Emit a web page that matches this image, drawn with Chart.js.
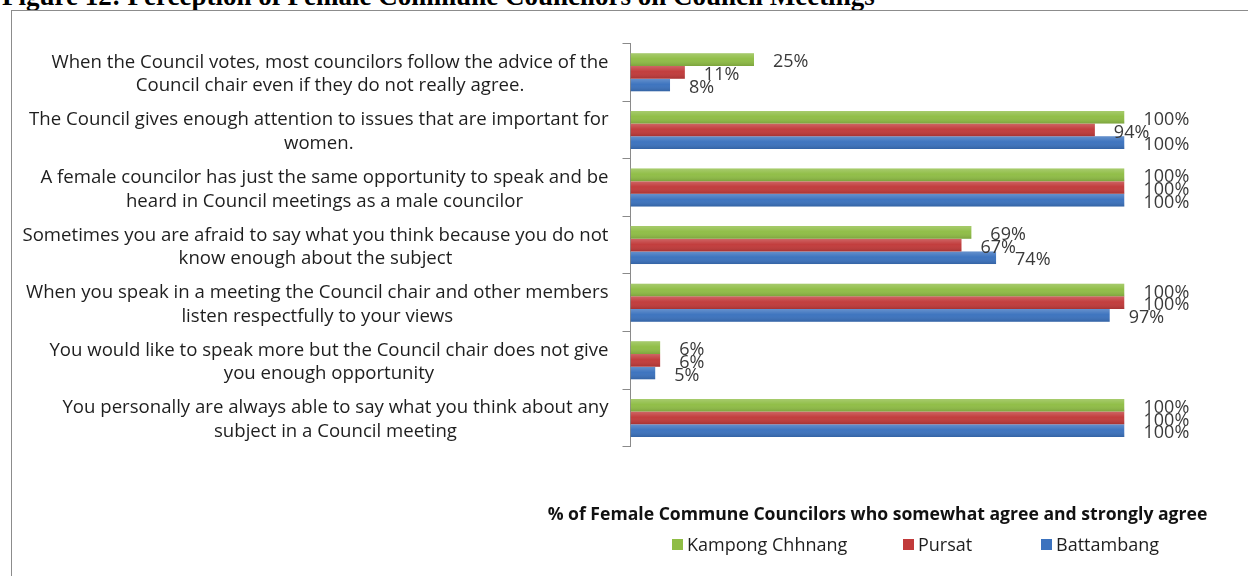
<!DOCTYPE html>
<html>
<head>
<meta charset="utf-8">
<script src="https://cdn.jsdelivr.net/npm/chart.js@4.4.1/dist/chart.umd.min.js"></script>
<style>
  html, body { margin: 0; padding: 0; background: #fff; width: 1248px; height: 576px; overflow: hidden; }
  #fig-title {
    position: absolute; left: 2px; top: -15.6px; white-space: nowrap; color: #000;
    font: bold 27px "Liberation Serif", "Times New Roman", serif; line-height: 24px;
  }
  #frame { position: absolute; left: 11px; top: 10px; width: 1400px; height: 700px; border: 1.5px solid #8c8c8c; }
  #chart { position: absolute; left: 0; top: 0; }
</style>
</head>
<body>
<div id="fig-title">Figure 12: Perception of Female Commune Councilors on Council Meetings</div>
<div id="frame"></div>
<canvas id="chart" width="1248" height="576"></canvas>
<script>
// survey statements, two lines each
const statements = [
  ["When the Council votes, most councilors follow the advice of the", "Council chair even if they do not really agree."],
  ["The Council gives enough attention to issues that are important for", "women."],
  ["A female councilor has just the same opportunity to speak and be", "heard in Council meetings as a male councilor"],
  ["Sometimes you are afraid to say what you think because you do not", "know enough about the subject"],
  ["When you speak in a meeting the Council chair and other members", "listen respectfully to your views"],
  ["You would like to speak more but the Council chair does not give", "you enough opportunity"],
  ["You personally are always able to say what you think about any", "subject in a Council meeting"]
];

const kampongChhnang = [25, 100, 100, 69, 100, 6, 100];
const pursat = [11, 94, 100, 67, 100, 6, 100];
const battambang = [8, 100, 100, 74, 97, 5, 100];

const provinces = ["Kampong Chhnang", "Pursat", "Battambang"];
const provinceColors = ["#8fbd45", "#c13a3a", "#3b72be"];
const axisTitle = "% of Female Commune Councilors who somewhat agree and strongly agree";

const labelFont = '18.6px "Open Sans"';
const valueFont = '18px "Open Sans"';
const legendFont = '18px "Open Sans"';
const axisTitleFont = 'bold 17.6px "Open Sans"';

// light top / dark bottom sheen over each bar
const barShade = {
  id: "barShade",
  afterDatasetsDraw(chart) {
    const ctx = chart.ctx;
    chart.data.datasets.forEach((ds, i) => {
      chart.getDatasetMeta(i).data.forEach((bar) => {
        const { x, y, base, height } = bar.getProps(["x", "y", "base", "height"], true);
        const top = y - height / 2;
        const g = ctx.createLinearGradient(0, top, 0, top + height);
        g.addColorStop(0, "rgba(255,255,255,0.22)");
        g.addColorStop(0.45, "rgba(255,255,255,0.02)");
        g.addColorStop(1, "rgba(0,0,0,0.14)");
        ctx.save();
        ctx.fillStyle = g;
        ctx.fillRect(Math.min(base, x), top, Math.abs(x - base), height);
        ctx.restore();
      });
    });
  }
};

// percentage next to the end of each bar
const valueLabels = {
  id: "valueLabels",
  afterDatasetsDraw(chart) {
    const ctx = chart.ctx;
    ctx.save();
    ctx.font = valueFont;
    ctx.fillStyle = "#3a3a3a";
    ctx.textAlign = "left";
    ctx.textBaseline = "middle";
    chart.data.datasets.forEach((ds, i) => {
      chart.getDatasetMeta(i).data.forEach((bar, j) => {
        ctx.fillText(ds.data[j] + "%", bar.x + 19, bar.y + 2.5);
      });
    });
    ctx.restore();
  }
};

// statement text left of the axis, lines centred within each block
const statementLabels = {
  id: "statementLabels",
  afterDraw(chart) {
    const ctx = chart.ctx;
    const yScale = chart.scales.y;
    const right = yScale.right - 22;
    ctx.save();
    ctx.font = labelFont;
    ctx.fillStyle = "#1e1e1e";
    ctx.textAlign = "center";
    ctx.textBaseline = "middle";
    chart.data.labels.forEach((lines, i) => {
      const w = Math.max(...lines.map((l) => ctx.measureText(l).width));
      const cx = right - w / 2;
      const cy = yScale.getPixelForValue(i) + 2;
      lines.forEach((l, k) => {
        ctx.fillText(l, cx, cy + (k - (lines.length - 1) / 2) * 23.5);
      });
    });
    ctx.restore();
  }
};

// axis title under the plot (wider than the plot, so drawn unclipped) and the legend row
const axisTitleAndLegend = {
  id: "axisTitleAndLegend",
  afterDraw(chart) {
    const ctx = chart.ctx;
    const area = chart.chartArea;
    ctx.save();
    ctx.textBaseline = "middle";
    ctx.textAlign = "center";
    ctx.font = axisTitleFont;
    ctx.fillStyle = "#111";
    ctx.fillText(axisTitle, (area.left + area.right) / 2, 515);

    const xs = [672, 903, 1041];
    const y = 546;
    ctx.font = legendFont;
    ctx.textAlign = "left";
    chart.data.datasets.forEach((ds, i) => {
      ctx.fillStyle = ds.backgroundColor;
      ctx.fillRect(xs[i], y - 7, 11, 11);
      ctx.fillStyle = "#1e1e1e";
      ctx.fillText(ds.label, xs[i] + 15, y);
    });
    ctx.restore();
  }
};

new Chart(document.getElementById("chart"), {
  type: "bar",
  data: {
    labels: statements,
    datasets: [
      { label: provinces[0], data: kampongChhnang, backgroundColor: provinceColors[0] },
      { label: provinces[1], data: pursat, backgroundColor: provinceColors[1] },
      { label: provinces[2], data: battambang, backgroundColor: provinceColors[2] }
    ]
  },
  options: {
    indexAxis: "y",
    responsive: false,
    animation: false,
    events: [],
    layout: { padding: { left: 0, right: 123.5, top: 43.5, bottom: 0 } },
    datasets: { bar: { categoryPercentage: 0.66, barPercentage: 1 } },
    plugins: { legend: { display: false }, tooltip: { enabled: false } },
    scales: {
      x: {
        min: 0,
        max: 100,
        ticks: { display: false },
        grid: { display: false, drawTicks: false },
        border: { display: false },
        afterFit(scale) { scale.height = 129.3; }
      },
      y: {
        ticks: { display: false },
        grid: { drawOnChartArea: false, tickLength: 8, color: "#8a8a8a", offset: true },
        border: { color: "#8a8a8a", width: 1 },
        afterFit(scale) { scale.width = 630.5; }
      }
    }
  },
  plugins: [barShade, valueLabels, statementLabels, axisTitleAndLegend]
});
</script>
</body>
</html>
